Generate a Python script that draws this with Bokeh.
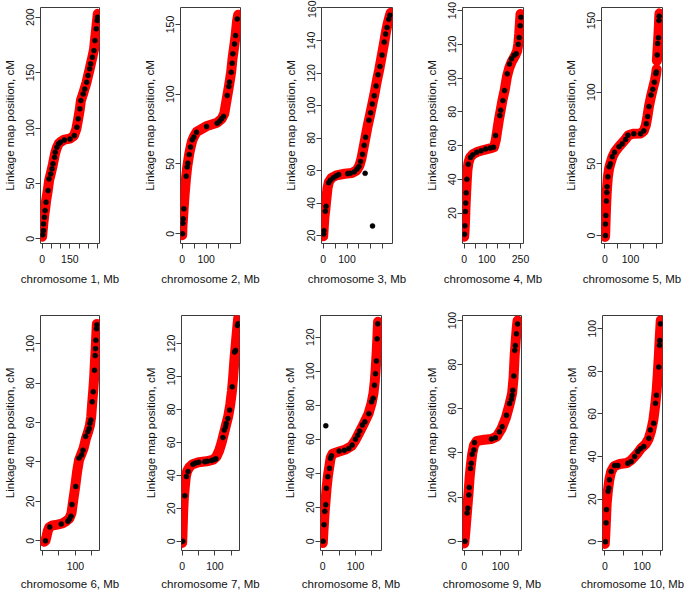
import math
from bokeh.plotting import figure
from bokeh.layouts import row, column
from bokeh.models import FixedTicker, Range1d
from bokeh.embed import file_html
from bokeh.resources import INLINE

Y_LABEL = "Linkage map position, cM"

# ---------------- data (Mb, cM) ----------------
chr1_red_mb = [0, 3, 7, 12, 17, 22, 30, 38, 47, 58, 70, 80, 90, 100, 120, 150, 172, 185, 195, 204, 210, 222, 240, 257, 272, 281, 287, 293, 298, 301]
chr1_red_cm = [2, 8, 15, 22, 28, 35, 43, 53, 59, 67, 77, 82.5, 86, 87.5, 89.5, 90.5, 93, 99, 108, 117, 125, 131, 141, 153, 164, 171, 181, 190, 198, 203]
chr1_blk_mb = [3.6, 7.1, 7.1, 12.4, 16, 21.3, 32, 37.3, 46.2, 53.3, 58.6, 67.5, 71, 79.9, 88.8, 99.4, 120.7, 150.9, 174, 188.2, 195.3, 204.2, 209.5, 221.9, 230.8, 241.4, 248.5, 257.4, 262.7, 271.6, 280.5, 285.8, 292.9, 298.2, 300]
chr1_blk_cm = [3.6, 7.5, 13.5, 19.5, 25.6, 33.1, 43.6, 54.1, 58.6, 63.2, 67.7, 73.7, 78.2, 82.7, 85.7, 87.2, 89.3, 90.2, 93.2, 100.8, 108.3, 117.3, 124.8, 130.8, 135.3, 141.4, 147.4, 153.4, 157.9, 163.9, 169.9, 178.9, 189.5, 197, 200]

chr2_red_mb = [0, 1, 3, 6, 10, 16, 21, 29, 35, 42, 50, 60, 100, 145, 165, 175, 185, 195, 204, 210, 218, 223, 229, 233]
chr2_red_cm = [-1, 5, 10, 18, 28, 40, 48, 57, 62, 67, 70, 73, 77, 79.5, 82.5, 86, 96, 106, 116, 126, 136, 143, 153, 157]
chr2_blk_mb = [1.4, 2.8, 4.2, 6.9, 16.7, 20.8, 23.6, 29.2, 34.7, 41.7, 48.6, 59.7, 101.4, 145.8, 155.6, 163.9, 172.2, 187.5, 194.4, 197.2, 204.2, 208.3, 211.1, 218, 222.2, 229.2]
chr2_blk_cm = [0, 7.6, 10.7, 17.9, 41.3, 47.8, 50.6, 56.8, 62.1, 67.4, 69.3, 72.8, 76.9, 79.3, 80.7, 82.4, 84.1, 99.1, 105.6, 108.7, 115.8, 122.3, 129, 136.1, 142.1, 154]

chr3_red_mb = [0, 2, 5, 9, 13, 18, 24, 35, 55, 90, 120, 140, 152, 160, 168, 177, 186, 195, 205, 215, 225, 235, 245, 255, 263, 270, 277, 283]
chr3_red_cm = [19.5, 24, 31, 36, 42, 49, 53, 55.5, 57, 58, 58.5, 60, 63, 67, 73, 80, 87, 93, 100, 107, 115, 122, 130, 138, 145, 150, 154, 157]
chr3_blk_mb = [2, 3, 9, 12, 23, 30, 42, 54, 65, 103, 114, 131, 142, 150, 157, 165, 172, 178, 192, 199, 206, 214, 222, 230, 238, 247, 256, 262, 268, 275, 280]
chr3_blk_cm = [21, 23, 35, 38, 52.5, 54, 55.5, 56.7, 57.5, 58.1, 58.3, 59.2, 61, 62.5, 65.5, 70, 75.5, 80.5, 91, 95.5, 101, 106, 112, 119, 124, 131, 139, 144, 148, 153, 155.5]
chr3_out_mb = [176, 207]
chr3_out_cm = [58.3, 25.9]

chr4_red_mb = [0, 2, 4, 6, 8, 11, 14, 19, 26, 40, 60, 90, 115, 132, 140, 148, 155, 162, 170, 180, 190, 200, 212, 225, 235, 240, 244, 247, 250]
chr4_red_cm = [6, 10, 16, 24, 30, 38, 45, 50, 53, 55, 56.3, 57.5, 58.3, 59, 63, 70, 76, 81, 87, 93, 101, 106, 110, 113, 116, 120, 126, 132, 138]
chr4_blk_mb = [1.5, 3, 5, 7, 9, 12, 18, 28, 38, 55, 75, 95, 115, 130, 139, 158, 162, 171.6, 179, 191, 201, 210, 220, 231, 240, 244, 248.5, 251.5]
chr4_blk_cm = [7.5, 12.5, 21, 26, 32, 40, 49, 53, 54.5, 56, 57, 58, 58.5, 59, 66, 77.8, 81, 86.7, 92.6, 102.5, 108.4, 111.4, 113.4, 114.4, 120, 124, 131, 136]

chr5_red_mb = [1, 2, 3, 5, 7, 9, 12, 17, 23, 30, 40, 55, 70, 82, 92, 110, 140, 152, 160, 166, 172, 180, 188, 195, 200, 202]
chr5_red_cm = [-1, 4, 10, 20, 28, 34, 41, 47, 51, 55, 58.5, 62, 65, 67.5, 70, 71, 71.2, 73, 77, 83, 90, 97, 103, 108, 113, 116]
chr5_red2_mb = [203, 205, 207, 209, 211, 212, 213]
chr5_red2_cm = [122, 128, 134, 140, 147, 152, 155]
chr5_blk_mb = [2.6, 2.6, 4, 6.5, 8, 9, 12, 17, 22, 29, 38, 55, 68, 81, 90, 113, 139, 152, 162, 167, 172, 180, 187, 193, 199, 201, 204, 206, 209, 211, 212]
chr5_blk_cm = [0, 8, 14, 24, 30, 34, 41, 48, 50, 55, 58, 62, 64, 67, 70, 71, 71, 73, 78, 83, 90, 98, 102, 107, 113, 114, 126, 134, 138, 150, 153]

chr6_red_mb = [5, 9, 12, 16, 21, 30, 45, 60, 72, 82, 88, 93, 99, 105, 111, 118, 125, 132, 139, 144, 148, 151, 154, 157, 159, 161, 163, 165]
chr6_red_cm = [-0.5, 0, 2, 5, 7, 7.8, 8.2, 8.8, 10, 11.5, 14, 20, 27, 35, 41, 44, 47, 52, 55.5, 58.5, 63, 70, 76, 83, 90, 96, 103, 110]
chr6_blk_mb = [9, 22, 57, 77, 81.5, 86.5, 89.5, 101, 111, 119, 123, 131, 138, 142, 144, 147, 151, 154, 158, 160, 161, 162, 164, 165]
chr6_blk_cm = [0, 7, 8.6, 10, 11, 12.5, 18.4, 27.6, 42, 43.6, 46, 53, 55.4, 57, 59.6, 61.3, 70.5, 75.6, 86.5, 94, 97.5, 101.7, 107.6, 109.6]

chr7_red_mb = [0, 1.5, 3, 5, 8, 11, 15, 22, 32, 50, 75, 95, 105, 113, 120, 127, 134, 141, 147, 152, 156, 160, 164, 168, 171, 173]
chr7_red_cm = [-1, 8, 18, 26, 33, 39, 42.5, 45, 46.8, 48, 48.5, 49.5, 51.5, 55, 59.5, 65, 70.5, 76, 83, 91, 100, 111, 120, 129, 135, 137]
chr7_blk_mb = [2, 8, 13, 18, 32.7, 40.8, 51, 69, 76.5, 90, 98, 103, 124.5, 128.6, 132.7, 134.7, 139.8, 145, 153, 160, 163, 169, 171]
chr7_blk_cm = [0, 27.6, 39.3, 42.3, 46.7, 47.5, 48, 48.3, 48.5, 49, 49.6, 50, 62.9, 67.5, 69.5, 71.5, 74.5, 79.6, 93.7, 114.8, 115.8, 131, 132]

chr8_red_mb = [0, 2, 4, 6, 9, 12, 16, 20, 24, 30, 50, 70, 88, 100, 112, 125, 140, 149, 155, 159, 162, 165, 167, 169]
chr8_red_cm = [-1, 6, 12, 18, 25, 32, 39, 44, 49, 51.5, 52.8, 54, 56, 59.5, 64, 69, 75, 81, 87, 94, 102, 112, 120, 129]
chr8_blk_mb = [1, 4, 6, 9, 11, 15.3, 20.4, 23.5, 26.5, 50, 66, 79.6, 89.8, 100, 107, 113, 121, 128.6, 140.8, 149, 154, 158, 161, 164, 166, 168]
chr8_blk_cm = [0, 9.8, 17.6, 21.5, 31.2, 38, 42.9, 48.8, 50.3, 53, 53.5, 54.6, 56.6, 60, 62.4, 64.8, 68.3, 70.2, 75, 82, 84, 91.7, 98.5, 106, 119, 127.8]
chr8_out_mb = [9.2]
chr8_out_cm = [67.9]

chr9_red_mb = [0, 3, 6, 9, 12, 15, 18, 22, 27, 35, 55, 75, 90, 103, 115, 125, 132, 136, 139, 142, 145, 147]
chr9_red_cm = [-1, 4, 10, 16, 22, 29, 34, 39.5, 43.5, 45.5, 46, 46.3, 47.5, 51, 56, 62, 67, 74, 84, 91, 97, 100]
chr9_blk_mb = [2, 8, 10, 12.8, 13.8, 17.4, 19.3, 22, 26.6, 28.4, 75, 86, 97, 104.6, 116.5, 124.8, 130, 132, 134, 136.7, 139.4, 141, 144, 147]
chr9_blk_cm = [0, 12.8, 15, 21, 24.4, 33, 35.3, 39.4, 41.4, 44.7, 46.3, 46.9, 49.6, 51.9, 57.1, 62.4, 64.4, 66.2, 68.4, 74.9, 86.5, 88.7, 94, 98.5]

chr10_red_mb = [0, 2, 3.5, 5, 8, 12, 17, 25, 40, 60, 72, 85, 98, 110, 118, 124, 130, 135, 139, 142, 145, 147, 149, 150]
chr10_red_cm = [-1, 6, 12, 18, 23.5, 29, 33, 35.5, 36.5, 37, 38.5, 41, 44, 46, 48.5, 52, 57, 64, 71, 79, 88, 95, 101, 104]
chr10_blk_mb = [1.8, 3.6, 4.5, 8.9, 10.7, 12.5, 17, 26, 35, 61.6, 70.5, 80, 88.4, 95.5, 104.5, 118, 122, 131, 135.7, 138.4, 144.6, 146.4, 147.3, 149]
chr10_blk_cm = [0, 8.9, 15.1, 23.7, 25.2, 29.1, 33, 35.8, 35.8, 36.9, 37.7, 40, 42.4, 43.6, 44.7, 48.6, 52.5, 55.6, 65, 68.8, 82, 92.2, 94.5, 102.3]

# tick values and which of them carry a label
x_ticks = {1: [0, 50, 100, 150, 200, 250, 300], 2: [0, 50, 100, 150, 200], 3: [0, 50, 100, 150, 200, 250],
           4: [0, 50, 100, 150, 200, 250], 5: [0, 50, 100, 150, 200], 6: [0, 50, 100, 150],
           7: [0, 50, 100, 150], 8: [0, 50, 100, 150], 9: [0, 50, 100, 150], 10: [0, 50, 100, 150]}
x_shown = {1: [0, 150], 2: [0, 100], 3: [0, 100], 4: [0, 100, 250], 5: [0, 100], 6: [100],
           7: [0, 100], 8: [0, 100], 9: [0, 100], 10: [0, 100]}
y_ticks = {1: [0, 50, 100, 150, 200], 2: [0, 50, 100, 150], 3: [20, 40, 60, 80, 100, 120, 140, 160],
           4: [20, 40, 60, 80, 100, 120, 140], 5: [0, 50, 100, 150], 6: [0, 20, 40, 60, 80, 100],
           7: [0, 20, 40, 60, 80, 100, 120, 140], 8: [0, 20, 40, 60, 80, 100, 120],
           9: [0, 20, 40, 60, 80, 100], 10: [0, 20, 40, 60, 80, 100]}

# ---------------- layout / style (not data) ----------------
x_ranges = {1: (-9, 310.6), 2: (-7.1, 242.9), 3: (-7.1, 290.8), 4: (-7.5, 263.2), 5: (-12.9, 224.8),
            6: (-6, 173.1), 7: (-2.1, 175.2), 8: (-7.0, 179.5), 9: (-4.7, 157.9), 10: (-6.2, 154.6)}
y_ranges = {1: (-4.2, 208.75), 2: (-7.0, 162.2), 3: (15.1, 160.3), 4: (2.0, 141.8), 5: (-5.6, 159.1),
            6: (-4.9, 114.3), 7: (-5.6, 137.0), 8: (-5.4, 132.7), 9: (-4.2, 102.3), 10: (-4.1, 106.2)}
# (width, min_border_left, min_border_right)
row1_geom = [(140, 39, 41), (141, 40, 41), (141, 40, 30), (139, 40, 38), (124, 40, 23)]
row2_geom = [(141, 39, 42), (139, 40, 41), (142, 40, 41), (140, 40, 41), (123, 40, 23)]

RED = "#ff0000"
FRAME = "#3c3c3c"
FONT = "Liberation Sans"


def panel(n, red_segs, blk, outl, geom, h, mbt, mbb, top_row):
    w, mbl, mbr = geom
    p = figure(width=w, height=h, title=None,
               x_range=Range1d(*x_ranges[n]), y_range=Range1d(*y_ranges[n]),
               output_backend="svg", toolbar_location=None,
               min_border_left=mbl, min_border_right=mbr,
               min_border_top=mbt, min_border_bottom=mbb)
    p.grid.visible = False
    p.outline_line_color = FRAME
    p.outline_line_width = 1
    p.background_fill_color = "white"
    p.border_fill_color = "white"

    for mb, cm in red_segs:
        p.line(mb, cm, line_color=RED, line_width=10, line_cap="round", line_join="round")
    p.scatter(blk[0], blk[1], marker="circle", size=5, fill_color="black", line_color="black", line_width=0.5)
    if outl is not None:
        p.scatter(outl[0], outl[1], marker="circle", size=5, fill_color="black", line_color="black", line_width=0.5)

    xa = p.xaxis[0]
    xa.ticker = FixedTicker(ticks=x_ticks[n])
    xa.major_label_overrides = {t: (str(t) if t in x_shown[n] else "") for t in x_ticks[n]}
    xa.axis_label = f"chromosome {n}, Mb"
    ya = p.yaxis[0]
    ya.ticker = FixedTicker(ticks=y_ticks[n])
    ya.axis_label = Y_LABEL
    ya.major_label_orientation = "vertical"

    for ax in (xa, ya):
        ax.axis_line_color = None
        ax.major_tick_line_color = FRAME
        ax.minor_tick_line_color = None
        ax.major_tick_in = 0
        ax.major_tick_out = 5
        ax.major_label_text_font = FONT
        ax.major_label_text_font_size = "10.5px"
        ax.major_label_text_color = "#111111"
        ax.axis_label_text_font = FONT
        ax.axis_label_text_font_size = "11.5px"
        ax.axis_label_text_font_style = "normal"
        ax.axis_label_text_color = "#111111"
    if n == 10:
        xa.axis_label_text_font_size = "11.3px"

    ya.major_label_standoff = 1
    ya.axis_label_standoff = 8
    xa.major_label_standoff = 6
    xa.axis_label_standoff = 7 if top_row else 5
    return p


reds = {1: [(chr1_red_mb, chr1_red_cm)], 2: [(chr2_red_mb, chr2_red_cm)], 3: [(chr3_red_mb, chr3_red_cm)],
        4: [(chr4_red_mb, chr4_red_cm)], 5: [(chr5_red_mb, chr5_red_cm), (chr5_red2_mb, chr5_red2_cm)],
        6: [(chr6_red_mb, chr6_red_cm)], 7: [(chr7_red_mb, chr7_red_cm)], 8: [(chr8_red_mb, chr8_red_cm)],
        9: [(chr9_red_mb, chr9_red_cm)], 10: [(chr10_red_mb, chr10_red_cm)]}
blks = {1: (chr1_blk_mb, chr1_blk_cm), 2: (chr2_blk_mb, chr2_blk_cm), 3: (chr3_blk_mb, chr3_blk_cm),
        4: (chr4_blk_mb, chr4_blk_cm), 5: (chr5_blk_mb, chr5_blk_cm), 6: (chr6_blk_mb, chr6_blk_cm),
        7: (chr7_blk_mb, chr7_blk_cm), 8: (chr8_blk_mb, chr8_blk_cm), 9: (chr9_blk_mb, chr9_blk_cm),
        10: (chr10_blk_mb, chr10_blk_cm)}
outs = {3: (chr3_out_mb, chr3_out_cm), 8: (chr8_out_mb, chr8_out_cm)}

top = [panel(n, reds[n], blks[n], outs.get(n), row1_geom[i], 300, 7, 57, True)
       for i, n in enumerate([1, 2, 3, 4, 5])]
bottom = [panel(n, reds[n], blks[n], outs.get(n), row2_geom[i], 292, 15, 41, False)
          for i, n in enumerate([6, 7, 8, 9, 10])]

layout = column(row(*top, spacing=0), row(*bottom, spacing=0), spacing=0)

open("out.html", "w").write(file_html(layout, INLINE))
